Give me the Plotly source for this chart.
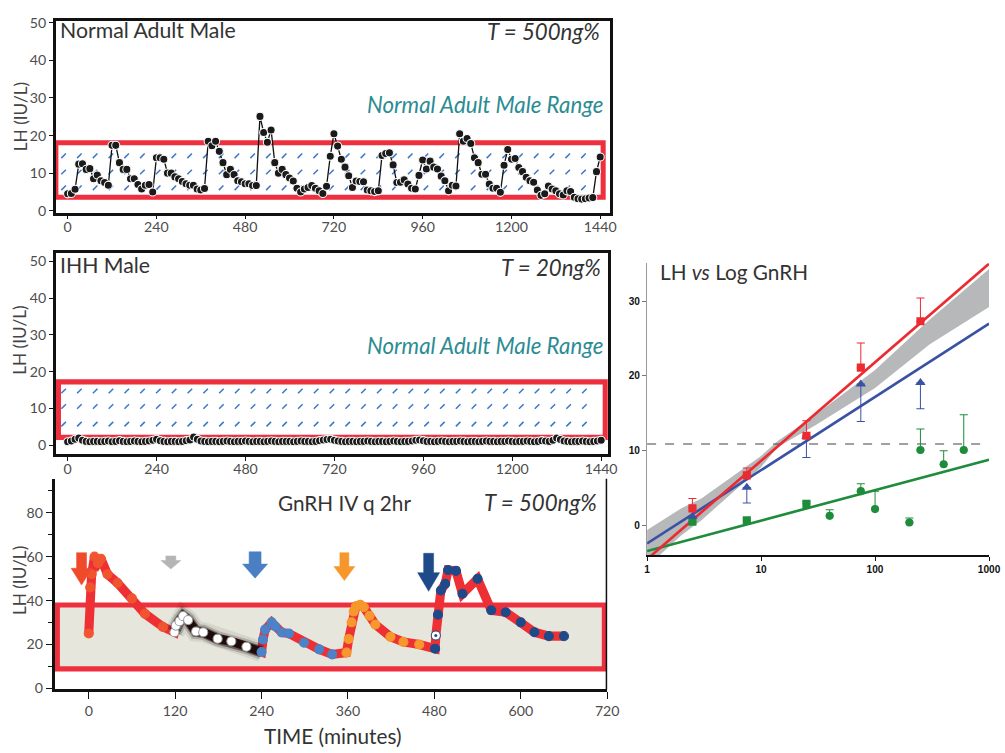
import plotly.graph_objects as go

# reference frame (pixel coordinates)
W, H = 1005, 753
# rendered figure size (the photographed viewport is slightly larger than W x H)
FIG_W, FIG_H = 1017, 762
K = FIG_W / W

# ---------------- data ----------------
sample_times = list(range(0, 1441, 10))

normal_lh = [
    4.5, 4.6, 5.7, 12.4, 12.5, 11.0, 11.2, 8.5, 9.5, 8.0,
    7.5, 6.8, 17.4, 17.4, 12.8, 11.0, 11.0, 8.5, 8.5, 7.0,
    5.8, 6.8, 7.0, 5.0, 14.1, 14.1, 13.7, 10.0, 10.0, 9.0,
    8.5, 7.8, 7.2, 6.8, 6.8, 5.8, 5.5, 5.9, 18.5, 17.3,
    18.5, 15.8, 12.8, 9.6, 11.0, 9.6, 8.0, 7.7, 7.2, 7.2,
    6.7, 6.7, 25.1, 20.8, 18.2, 21.5, 12.8, 10.0, 11.0, 9.6,
    8.7, 7.9, 6.0, 5.0, 5.8, 6.2, 6.7, 6.0, 5.3, 4.6,
    6.5, 14.5, 20.5, 17.2, 13.7, 11.6, 9.3, 6.2, 7.9, 7.8,
    7.7, 5.5, 5.3, 5.1, 5.3, 14.7, 15.2, 15.4, 12.2, 7.5,
    7.6, 8.2, 7.1, 6.0, 5.8, 9.4, 13.5, 11.1, 13.2, 11.6,
    11.1, 9.2, 8.0, 5.3, 6.8, 6.6, 20.5, 18.5, 19.2, 17.9,
    14.1, 12.8, 9.7, 9.7, 7.1, 6.0, 6.0, 4.9, 12.1, 16.3,
    13.7, 13.9, 11.5, 10.4, 8.9, 8.0, 7.6, 5.5, 4.1, 4.5,
    6.6, 5.8, 5.3, 4.5, 4.2, 5.3, 5.1, 3.6, 3.2, 3.1,
    3.2, 3.4, 3.5, 10.4, 14.3,
]

ihh_lh = [
    0.9, 1.1, 1.6, 1.9, 1.3, 1.0, 0.9, 1.0, 1.0, 0.9,
    1.0, 1.1, 0.9, 1.0, 1.2, 1.0, 0.9, 1.0, 1.1, 1.0,
    0.9, 1.0, 1.1, 1.3, 1.6, 1.2, 1.0, 0.9, 1.0, 1.0,
    0.9, 1.0, 1.2, 1.4, 2.2, 1.6, 1.1, 1.0, 0.9, 1.0,
    1.0, 0.9, 1.0, 1.1, 1.0, 0.9, 1.0, 1.0, 1.1, 1.0,
    0.9, 1.0, 1.0, 0.9, 1.0, 1.1, 1.0, 0.9, 1.0, 1.0,
    1.0, 0.9, 1.0, 1.1, 1.0, 1.0, 0.9, 1.0, 1.2, 1.4,
    1.5, 1.6, 1.3, 1.1, 1.0, 0.9, 1.0, 1.0, 0.9, 1.0,
    1.0, 1.1, 1.0, 0.9, 1.0, 1.0, 0.9, 1.0, 1.1, 1.0,
    0.9, 1.0, 1.0, 1.1, 1.3, 1.4, 1.2, 1.0, 1.0, 0.9,
    1.0, 1.1, 1.0, 0.9, 1.0, 1.0, 1.1, 1.0, 0.9, 1.0,
    1.0, 0.9, 1.0, 1.1, 1.0, 1.0, 0.9, 1.0, 1.0, 1.1,
    1.0, 0.9, 1.0, 1.0, 1.1, 1.0, 0.9, 1.0, 1.2, 1.1,
    1.0, 1.3, 1.9, 1.5, 1.1, 1.0, 0.9, 1.0, 1.0, 1.1,
    1.0, 0.9, 1.0, 1.1, 1.3,
]

# normal adult male range boxes (LH, IU/L)
range_top_panel = [3.6, 18.1]
range_mid_panel = [2.1, 17.2]
range_gnrh_panel = [8.9, 38.0]

# GnRH IV q 2hr experiment (minutes, LH)
red_t = [0, 2, 4, 8, 13, 17, 26, 40, 60, 78, 103]
red_v = [25.0, 46.0, 52.0, 60.0, 57.0, 59.0, 52.0, 48.0, 41.0, 34.0, 28.0]
gray_t = [119, 121, 126, 131, 138, 149, 159, 179, 198, 219]
gray_v = [25.6, 28.6, 30.6, 32.9, 31.1, 25.9, 25.6, 22.6, 21.5, 19.0]
lblue_t = [240, 242, 245, 254, 259, 268, 278, 299, 320, 338]
lblue_v = [16.6, 22.3, 26.8, 30.1, 28.2, 25.5, 25.0, 20.8, 17.8, 15.5]
orange_t = [358, 361, 365, 368, 371, 377, 382, 390, 398, 419, 437, 459]
orange_v = [16.3, 22.5, 30.1, 35.0, 37.4, 38.1, 37.0, 33.1, 29.1, 23.5, 21.2, 20.0]
dblue_t = [481, 485, 489, 495, 499, 510, 519, 540, 559, 579, 600, 619, 639, 660]
dblue_v = [18.1, 33.6, 44.6, 47.6, 53.9, 53.5, 43.1, 49.9, 35.6, 34.7, 30.1, 25.6, 23.8, 23.8]
white_t = [482]
white_v = [24.1]

# dose arrows
arrow_t = [-10, 114, 231, 355, 472]
arrow_top = [61.8, 60.3, 62.2, 61.8, 61.5]
arrow_neck = [54.7, 58.2, 56.6, 55.5, 52.7]
arrow_tip = [47.1, 54.4, 50.2, 49.1, 44.2]
arrow_colors = ["#ef4b2a", "#b5b5b5", "#4b7fc3", "#f7962b", "#1f4a89"]

# LH vs log GnRH dose
dose_x = [2.5, 7.5, 25, 75, 250]
red_lh = [2.3, 6.7, 12.0, 21.1, 27.3]
red_err_up = [1.3, 1.0, 2.0, 3.3, 3.1]
blue_lh = [1.2, 5.1, 11.9, 18.9, 19.1]
blue_err_down = [0.0, 2.1, 2.8, 5.0, 3.5]
green_x = [2.5, 7.5, 25, 40, 75, 100, 200, 250, 400, 600]
green_lh = [0.5, 0.7, 2.9, 1.3, 4.6, 2.2, 0.4, 10.1, 8.2, 10.1]
green_err_up = [0.0, 0.3, 0.3, 0.8, 1.0, 2.4, 0.6, 2.8, 1.8, 4.7]
green_symbols = ["square", "square", "square", "circle", "circle",
                 "circle", "circle", "circle", "circle", "circle"]
fit_x = [1, 1000]
red_fit = [-4.5, 35.0]
blue_fit = [-2.4, 27.0]
green_fit = [-3.4, 8.8]
band_x = [1, 2, 3, 10, 14, 30, 100, 300, 1000]
band_hi = [-0.6, 2.3, 3.6, 9.3, 11.3, 14.8, 20.8, 27.5, 34.3]
band_lo = [-5.5, -1.3, 0.7, 7.8, 10.5, 13.4, 18.4, 24.2, 29.2]
threshold = 10.9

# ---------------- styling helpers ----------------
FONT = "Lato, 'Noto Sans', sans-serif"
TICKC = "#4d4d4d"
RED = "#ee2f3d"
TEAL = "#2b8c93"
HATCH = "#3c78c8"


def S(v):
    return v * K


def dx(a, b):
    return [a / W, b / W]


def dy(top, bottom):
    return [1 - bottom / H, 1 - top / H]


fig = go.Figure()

# ---------- hatch marks in range boxes ----------
hatch_cols = [-11 + 42.6 * i for i in range(34)]
for xa, ya, rows in [("x", "y", [14.6, 10.3, 6.1]), ("x2", "y2", [14.7, 10.5, 5.7])]:
    hx, hy = [], []
    for r in rows:
        for c in hatch_cols:
            if c < 1440:
                hx.append(c)
                hy.append(r)
    fig.add_trace(go.Scatter(x=hx, y=hy, mode="markers", xaxis=xa, yaxis=ya,
                             marker=dict(symbol="line-ne", size=S(4.5),
                                         line=dict(color=HATCH, width=S(1.5))),
                             hoverinfo="skip", showlegend=False))

# ---------- top & middle series ----------
for xa, ya, vals in [("x", "y", normal_lh), ("x2", "y2", ihh_lh)]:
    fig.add_trace(go.Scatter(x=sample_times, y=vals, mode="lines+markers",
                             xaxis=xa, yaxis=ya,
                             line=dict(color="#111", width=S(1.3)),
                             marker=dict(color="#1a1a1a", size=S(8),
                                         line=dict(color="white", width=S(1))),
                             showlegend=False))

# ---------- bottom panel ----------
all_t = red_t + gray_t + lblue_t + orange_t + [dblue_t[0]] + white_t + dblue_t[1:]
all_v = red_v + gray_v + lblue_v + orange_v + [dblue_v[0]] + white_v + dblue_v[1:]
fig.add_trace(go.Scatter(x=all_t, y=all_v, mode="lines", xaxis="x3", yaxis="y3",
                         line=dict(color="#ee3035", width=S(9)), showlegend=False))
glow_t = gray_t + [lblue_t[0]]
glow_v = gray_v + [lblue_v[0]]
for wdt, col in [(20, "rgba(0,0,0,0.07)"), (15, "rgba(0,0,0,0.18)"),
                 (11, "rgba(0,0,0,0.45)"), (8, "#1c0d0d")]:
    fig.add_trace(go.Scatter(x=glow_t, y=glow_v, mode="lines", xaxis="x3", yaxis="y3",
                             line=dict(color=col, width=S(wdt)), showlegend=False,
                             hoverinfo="skip"))

seg_styles = [
    (red_t, red_v, "#f0552f", "#f0552f"),
    (gray_t, gray_v, "white", "#9a9a9a"),
    (lblue_t, lblue_v, "#4b82c8", "#4b82c8"),
    (orange_t, orange_v, "#f7982c", "#f7982c"),
    (dblue_t, dblue_v, "#1f4a89", "#1f4a89"),
]
for tt, vv, fc, lc in seg_styles:
    fig.add_trace(go.Scatter(x=tt, y=vv, mode="markers", xaxis="x3", yaxis="y3",
                             marker=dict(color=fc, size=S(9), line=dict(color=lc, width=S(1))),
                             showlegend=False))
fig.add_trace(go.Scatter(x=white_t, y=white_v, mode="markers", xaxis="x3", yaxis="y3",
                         marker=dict(color="white", size=S(9),
                                     line=dict(color="#1f4a89", width=S(1))),
                         showlegend=False))
fig.add_trace(go.Scatter(x=white_t, y=white_v, mode="markers", xaxis="x3", yaxis="y3",
                         marker=dict(color="#1f4a89", size=S(3)), showlegend=False))

# arrows (widths given in reference pixels, converted to minutes)
px_per_min = 554 / 767.1
shaft_px = [5, 5, 6, 4.5, 5]
head_px = [10.5, 10, 12.5, 10.5, 11]
for t, top, neck, tip, col, s, h in zip(arrow_t, arrow_top, arrow_neck, arrow_tip,
                                         arrow_colors, shaft_px, head_px):
    s_m, h_m = s / px_per_min, h / px_per_min
    fig.add_trace(go.Scatter(
        x=[t - s_m, t + s_m, t + s_m, t + h_m, t, t - h_m, t - s_m, t - s_m],
        y=[top, top, neck, neck, tip, neck, neck, top],
        mode="lines", fill="toself", fillcolor=col, line=dict(color=col, width=0.5),
        xaxis="x3", yaxis="y3", showlegend=False, hoverinfo="skip"))

# ---------- right panel ----------
fig.add_trace(go.Scatter(x=band_x + band_x[::-1], y=band_hi + band_lo[::-1],
                         mode="lines", fill="toself", fillcolor="#b6b8ba",
                         line=dict(width=0), xaxis="x4", yaxis="y4",
                         showlegend=False, hoverinfo="skip"))
fig.add_trace(go.Scatter(x=fit_x, y=[threshold, threshold], mode="lines",
                         line=dict(color="#444", width=S(1.2), dash="dash"),
                         xaxis="x4", yaxis="y4", showlegend=False))
for yy, col in [(green_fit, "#1f8c3b"), (blue_fit, "#3a52a4"), (red_fit, "#ec2a2f")]:
    fig.add_trace(go.Scatter(x=fit_x, y=yy, mode="lines", line=dict(color=col, width=S(2.6)),
                             xaxis="x4", yaxis="y4", showlegend=False))
fig.add_trace(go.Scatter(x=green_x, y=green_lh, mode="markers", xaxis="x4", yaxis="y4",
                         marker=dict(color="#1f8c3b", size=S(8), symbol=green_symbols),
                         error_y=dict(type="data", symmetric=False, array=green_err_up,
                                      arrayminus=[0] * len(green_x), color="#1f8c3b",
                                      thickness=S(1), width=S(4)),
                         showlegend=False))
fig.add_trace(go.Scatter(x=dose_x, y=blue_lh, mode="markers", xaxis="x4", yaxis="y4",
                         marker=dict(color="#3a52a4", size=S(9), symbol="triangle-up"),
                         error_y=dict(type="data", symmetric=False, array=[0] * 5,
                                      arrayminus=blue_err_down, color="#3a52a4",
                                      thickness=S(1), width=S(4)),
                         showlegend=False))
fig.add_trace(go.Scatter(x=dose_x, y=red_lh, mode="markers", xaxis="x4", yaxis="y4",
                         marker=dict(color="#ec2a2f", size=S(8), symbol="square"),
                         error_y=dict(type="data", symmetric=False, array=red_err_up,
                                      arrayminus=[0] * 5, color="#ec2a2f",
                                      thickness=S(1), width=S(4)),
                         showlegend=False))

# ---------------- layout ----------------
tickfont = dict(family=FONT, size=S(14), color=TICKC)
common = dict(showgrid=False, zeroline=False, ticks="outside", tickcolor="#111",
              tickfont=tickfont)
rfont = dict(family="Liberation Sans, Arial", size=S(10), color="#111", weight="bold")

layout = dict(
    width=FIG_W, height=FIG_H, autosize=False, margin=dict(l=0, r=0, t=0, b=0),
    paper_bgcolor="white", plot_bgcolor="rgba(0,0,0,0)", font=dict(family=FONT),
    xaxis=dict(domain=dx(53, 609), range=[-32, 1467], anchor="y",
               tickvals=[0, 240, 480, 720, 960, 1200, 1440], ticklen=S(4),
               ticklabelstandoff=-4,
               showline=True, mirror=True, linecolor="#111", linewidth=S(2.5), **common),
    yaxis=dict(domain=dy(14, 207), range=[-0.5, 50.5], anchor="x",
               tickvals=[0, 10, 20, 30, 40, 50], ticklen=S(4),
               showline=True, mirror=True, linecolor="#111", linewidth=S(2.5), **common),
    xaxis2=dict(domain=dx(53, 607), range=[-32, 1459], anchor="y2",
                tickvals=[0, 240, 480, 720, 960, 1200, 1440], ticklen=S(4),
                ticklabelstandoff=-4,
                showline=True, mirror=True, linecolor="#111", linewidth=S(2.5), **common),
    yaxis2=dict(domain=dy(248, 450), range=[-2.43, 52.16], anchor="x2",
                tickvals=[0, 10, 20, 30, 40, 50], ticklen=S(4),
                showline=True, mirror=True, linecolor="#111", linewidth=S(2.5), **common),
    xaxis3=dict(domain=dx(52, 606), range=[-47.1, 720], anchor="y3",
                tickvals=[0, 120, 240, 360, 480, 600, 720], ticklen=S(6),
                showline=True, linecolor="#111", linewidth=S(3), **common),
    yaxis3=dict(domain=dy(475, 687), range=[-0.45, 95.4], anchor="x3",
                tickvals=[0, 20, 40, 60, 80], ticklen=S(6),
                minor=dict(tickvals=[10, 30, 50, 70, 90], ticklen=S(4), ticks="outside",
                           tickcolor="#111"),
                showline=True, linecolor="#111", linewidth=S(3), **common),
    xaxis4=dict(type="log", domain=dx(646, 989), range=[0, 3], anchor="y4",
                tickvals=[1, 10, 100, 1000], ticktext=["1", "10", "100", "1000"],
                showgrid=False, zeroline=False, ticks="outside", ticklen=S(4),
                tickcolor="#111", showline=True, linecolor="#111", linewidth=S(1.5),
                tickfont=rfont),
    yaxis4=dict(domain=dy(258, 552), range=[-3.98, 35.05], anchor="x4",
                tickvals=[0, 10, 20, 30], showgrid=False, zeroline=False,
                ticks="outside", ticklen=S(4), tickcolor="#777",
                showline=True, linecolor="#999", linewidth=S(1), tickfont=rfont),
)

shapes = [
    dict(type="rect", xref="x", yref="y", x0=-32, x1=1448,
         y0=range_top_panel[0], y1=range_top_panel[1],
         line=dict(color=RED, width=S(5)), fillcolor="rgba(0,0,0,0)", layer="below"),
    dict(type="rect", xref="x2", yref="y2", x0=-25, x1=1451,
         y0=range_mid_panel[0], y1=range_mid_panel[1],
         line=dict(color=RED, width=S(5)), fillcolor="rgba(0,0,0,0)", layer="below"),
    dict(type="rect", xref="x3", yref="y3", x0=-43.6, x1=716,
         y0=range_gnrh_panel[0], y1=range_gnrh_panel[1],
         line=dict(color=RED, width=S(5)), fillcolor="#e6e6dc", layer="below"),
    dict(type="line", xref="x3", yref="y3 domain", x0=720, x1=720, y0=0, y1=1,
         line=dict(color="#111", width=S(3))),
]


def ann(text, x, y, xanchor="left", size=19, color="#333", angle=0):
    return dict(text=text, x=x / W, y=1 - y / H, xref="paper", yref="paper",
                xanchor=xanchor, yanchor="middle", showarrow=False, textangle=angle,
                font=dict(family=FONT, size=S(size), color=color))


annotations = [
    ann("Normal Adult Male", 55, 23, size=21),
    ann("<i>T = 500ng%</i>", 601, 25, xanchor="right", size=22),
    ann("<i>Normal Adult Male Range</i>", 604, 98, xanchor="right", size=22, color=TEAL),
    ann("IHH Male", 55, 260, size=21),
    ann("<i>T = 20ng%</i>", 602, 262, xanchor="right", size=22),
    ann("<i>Normal Adult Male Range</i>", 604, 341, xanchor="right", size=22, color=TEAL),
    ann("GnRH IV q 2hr", 274, 499, size=20.5),
    ann("<i>T = 500ng%</i>", 598, 499, xanchor="right", size=22),
    ann("TIME (minutes)", 331, 734, xanchor="center", size=20.5),
    ann("LH (IU/L)", 17, 110, xanchor="center", size=17, color="#444", angle=-90),
    ann("LH (IU/L)", 17, 335, xanchor="center", size=17, color="#444", angle=-90),
    ann("LH (IU/L)", 16, 577, xanchor="center", size=17, color="#444", angle=-90),
    ann("LH <i>vs</i> Log GnRH", 657, 267, size=20.5),
]

layout["shapes"] = shapes
layout["annotations"] = annotations
fig.update_layout(**layout)

fig.write_html("out.html", config={"displayModeBar": False},
               post_script="document.body.style.margin='0';")
